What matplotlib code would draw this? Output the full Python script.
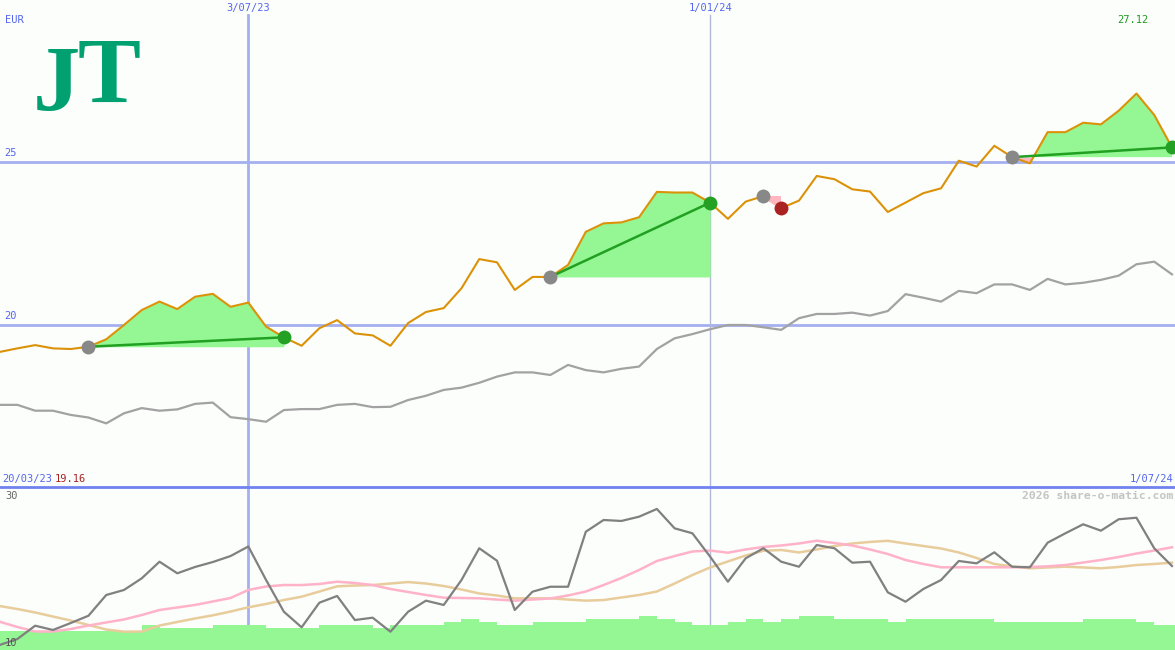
import numpy as np
import pandas as pd
import matplotlib
matplotlib.use("Agg")
import matplotlib.pyplot as plt
import matplotlib.transforms as mtransforms

# weekly closes, Monday to Monday
dates = pd.date_range("2023-03-20", periods=68, freq="7D")

price = [19.22, 19.16, 19.27, 19.37, 19.27, 19.25, 19.32, 19.55, 19.99, 20.45,
         20.71, 20.48, 20.86, 20.95, 20.55, 20.68, 19.94, 19.61, 19.35, 19.89,
         20.14, 19.73, 19.67, 19.35, 20.05, 20.39, 20.51, 21.12, 22.02, 21.92,
         21.07, 21.47, 21.47, 21.84, 22.86, 23.12, 23.15, 23.31, 24.09, 24.07,
         24.07, 23.76, 23.26, 23.79, 23.96, 23.59, 23.82, 24.58, 24.48, 24.17,
         24.10, 23.47, 23.76, 24.05, 24.20, 25.05, 24.87, 25.51, 25.16, 24.97,
         25.93, 25.93, 26.22, 26.17, 26.59, 27.12, 26.46, 25.46]

# comparison index, rebased to the price scale
index_line = [17.53, 17.53, 17.53, 17.35, 17.35, 17.22, 17.14, 16.96, 17.27, 17.43,
              17.35, 17.39, 17.56, 17.60, 17.15, 17.09, 17.01, 17.37, 17.40, 17.40,
              17.53, 17.56, 17.46, 17.47, 17.68, 17.81, 17.99, 18.06, 18.21, 18.40,
              18.53, 18.53, 18.45, 18.76, 18.60, 18.53, 18.64, 18.71, 19.25, 19.58,
              19.71, 19.86, 19.99, 19.99, 19.92, 19.84, 20.20, 20.33, 20.33, 20.37,
              20.28, 20.42, 20.94, 20.83, 20.71, 21.04, 20.97, 21.24, 21.24, 21.07,
              21.41, 21.24, 21.29, 21.38, 21.51, 21.86, 21.94, 21.55]

# lower panel: volatility and its two averages
volat = [9.8, 10.62, 11.36, 13.0, 12.47, 13.33, 14.23, 16.79, 17.41, 18.85,
         20.90, 19.47, 20.25, 20.86, 21.60, 22.78, 18.64, 14.73, 12.80, 15.84,
         16.67, 13.70, 13.99, 12.26, 14.73, 16.09, 15.56, 18.64, 22.56, 21.02,
         14.94, 17.20, 17.81, 17.81, 24.60, 26.05, 25.93, 26.46, 27.41, 25.02,
         24.41, 21.52, 18.43, 21.32, 22.56, 20.90, 20.28, 22.96, 22.56, 20.78,
         20.90, 17.12, 15.96, 17.53, 18.64, 20.99, 20.70, 22.06, 20.28, 20.21,
         23.25, 24.41, 25.52, 24.73, 26.14, 26.33, 22.56, 20.37]

avg_short = [13.95, 13.49, 12.84, 12.28, 12.28, 12.59, 13.02, 13.40, 13.77, 14.32,
             14.94, 15.25, 15.56, 15.99, 16.42, 17.41, 17.84, 18.02, 18.02, 18.15,
             18.43, 18.27, 18.02, 17.53, 17.16, 16.79, 16.46, 16.42, 16.38, 16.23,
             16.09, 16.23, 16.36, 16.73, 17.22, 18.02, 18.89, 19.88, 20.99, 21.60,
             22.16, 22.28, 22.01, 22.41, 22.72, 22.90, 23.15, 23.49, 23.21, 22.90,
             22.41, 21.85, 21.11, 20.62, 20.21, 20.21, 20.21, 20.21, 20.21, 20.25,
             20.33, 20.49, 20.80, 21.11, 21.48, 21.91, 22.28, 22.68]

avg_long = [15.93, 15.43, 15.06, 14.63, 14.13, 13.64, 13.09, 12.53, 12.26, 12.28,
            13.02, 13.46, 13.89, 14.28, 14.75, 15.27, 15.68, 16.17, 16.58, 17.22,
            17.86, 17.96, 18.02, 18.21, 18.39, 18.21, 17.90, 17.47, 16.98, 16.73,
            16.38, 16.38, 16.38, 16.23, 16.09, 16.17, 16.48, 16.79, 17.22, 18.21,
            19.26, 20.19, 20.93, 21.67, 22.25, 22.35, 22.04, 22.41, 22.84, 23.15,
            23.34, 23.48, 23.15, 22.84, 22.53, 22.04, 21.36, 20.62, 20.31, 20.09,
            20.19, 20.29, 20.19, 20.09, 20.25, 20.49, 20.62, 20.78]

volume = [6.3, 6.3, 6.3, 6.3, 6.3, 6.3, 6.3, 6.3, 6.3, 8.3,
          7.4, 7.4, 7.4, 8.3, 8.3, 8.3, 7.4, 7.4, 7.4, 8.3,
          8.3, 8.3, 7.4, 8.3, 8.3, 8.3, 9.3, 10.3, 9.3, 8.3,
          8.3, 9.3, 9.3, 9.3, 10.3, 10.3, 10.3, 11.3, 10.3, 9.3,
          8.3, 8.3, 9.3, 10.3, 9.3, 10.3, 11.3, 11.3, 10.3, 10.3,
          10.3, 9.3, 10.3, 10.3, 10.3, 10.3, 10.3, 9.3, 9.3, 9.3,
          9.3, 9.3, 10.3, 10.3, 10.3, 9.3, 8.3, 8.3]

# (entry week, exit week)
trades = [(6, 17), (32, 41), (44, 45), (58, 67)]

grid_levels = [20, 25]
date_marks = ["2023-07-03", "2024-01-01"]

BG = "#fbfefb"
BLUE = "#5566ee"
GRIDC = "#a4b0f0"
FILL_UP = "#94f794"
FILL_DN = "#ffb6c1"
MONO = "DejaVu Sans Mono"

x = np.arange(len(price))
price = np.array(price)
W, H = 1175, 650

fig = plt.figure(figsize=(W / 100, H / 100), dpi=100, facecolor=BG)
ax = fig.add_axes([0, 163 / H, 1, 487 / H], facecolor=BG)
axv = fig.add_axes([0, 0, 1, 162 / H], facecolor=BG, sharex=ax)
axl = fig.add_axes([0, 0, 1, 162 / H], facecolor="none", sharex=ax)

for a in (ax, axv, axl):
    a.set_axis_off()
ax.set_xlim(1.02, 67.17)
ax.set_ylim(15, 30)
axl.set_ylim(10, 30)
axv.set_ylim(0, 54)

# grid
for lv in grid_levels:
    ax.axhline(lv, color=GRIDC, lw=2, zorder=1)
    ax.text(0.004, lv + 0.12, str(lv), transform=mtransforms.blended_transform_factory(ax.transAxes, ax.transData),
            color=BLUE, fontsize=7.5, family=MONO, va="bottom", ha="left")

for d, lw, col in zip(date_marks, [2, 1], [GRIDC, "#b4b8d8"]):
    pos = dates.get_loc(pd.Timestamp(d))
    ax.axvline(pos, ymax=1 - 15 / 487, color=col, lw=lw, zorder=1)
    axv.axvline(pos, color=col, lw=lw, zorder=1)
    ax.text(pos, 1 - 3 / 487, dates[pos].strftime("%-d/%m/%y"),
            transform=mtransforms.blended_transform_factory(ax.transData, ax.transAxes),
            color=BLUE, fontsize=7.5, family=MONO, ha="center", va="top")

# trades
for i0, i1 in trades:
    seg = x[i0:i1 + 1]
    pr = price[i0:i1 + 1]
    entry = price[i0]
    ax.fill_between(seg, entry, pr, where=pr >= entry, interpolate=True,
                    color=FILL_UP, lw=0, zorder=2)
    ax.fill_between(seg, entry, pr, where=pr < entry, interpolate=True,
                    color=FILL_DN, lw=0, zorder=2)

ax.plot(x, index_line, color="#a2a2a2", lw=1.6, zorder=3)
ax.plot(x, price, color="#dc9208", lw=1.5, zorder=4)

for i0, i1 in trades:
    win = price[i1] >= price[i0]
    ax.plot([i0, i1], [price[i0], price[i1]], color="#22a022" if win else FILL_DN,
            lw=1.8, zorder=5)
    ax.plot(i0, price[i0], "o", ms=10, color="#888888", mec="none", zorder=6)
    ax.plot(i1, price[i1], "o", ms=10, color="#24a024" if win else "#aa2222",
            mec="none", zorder=6)

# lower panel
axv.bar(x, volume, width=1.0, align="edge", color=FILL_UP, lw=0, zorder=2)
axl.plot(x, avg_long, color="#e8cc9c", lw=1.8)
axl.plot(x, avg_short, color="#ffb2c8", lw=1.8)
axl.plot(x, volat, color="#808080", lw=1.6)

# separator between panels
fig.add_artist(plt.Line2D([0, 1], [1 - 487 / H, 1 - 487 / H], color="#7082f0", lw=2))

def ftext(px, py, s, **kw):
    kw.setdefault("family", MONO)
    kw.setdefault("fontsize", 7.5)
    fig.text(px / W, 1 - py / H, s, **kw)

ftext(5, 20, "EUR", color=BLUE, va="center")
ftext(1148, 20, "%.2f" % max(price), color="#229922", ha="right", va="center")
ftext(2, 479, dates[0].strftime("%d/%m/%y"), color=BLUE, va="center")
ftext(55, 479, "%.2f" % min(price), color="#aa2222", va="center")
ftext(1173, 479, dates[-1].strftime("%-d/%m/%y"), color=BLUE, ha="right", va="center")
ftext(5, 496, "30", color="#666666", va="center")
ftext(5, 643, "10", color="#555555", va="center", zorder=10)
ftext(1173, 496, "2026 share-o-matic.com", color="#c4c4c4", ha="right", va="center",
      fontsize=8.2, fontweight="bold")

# logo: J sits a little lower than T
logo = dict(family="Liberation Serif", fontweight="bold", fontsize=68,
            color="#00a070", va="baseline", ha="left")
ftext(33, 110, "J", **logo)
ftext(78, 102, "T", **logo)

fig.savefig("out.png", dpi=100, facecolor=BG)
